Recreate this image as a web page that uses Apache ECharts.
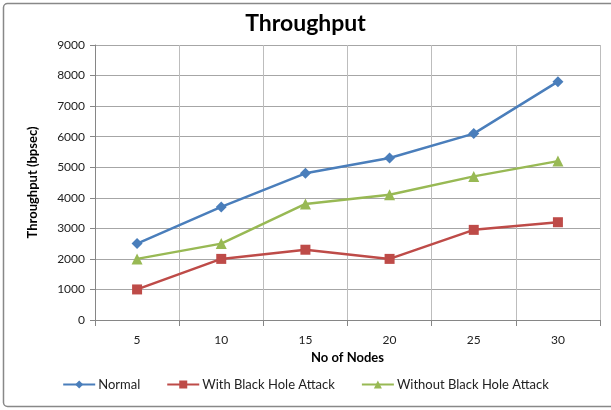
<!DOCTYPE html>
<html><head><meta charset="utf-8">
<script src="https://cdn.jsdelivr.net/npm/echarts@6/dist/echarts.min.js"></script>
<style>html,body{margin:0;padding:0;background:#fff}#c{width:611px;height:410px}</style>
</head><body><div id="c"></div>
<script>
const categories = ['5','10','15','20','25','30'];
const normal = [2500, 3700, 4800, 5300, 6100, 7800];
const withAttack = [1000, 2000, 2300, 2000, 2950, 3200];
const withoutAttack = [2000, 2500, 3800, 4100, 4700, 5200];
const seriesNames = ['Normal', 'With Black Hole Attack', 'Without Black Hole Attack'];

const font = 'Lato, "Noto Sans", sans-serif';
const chart = echarts.init(document.getElementById('c'));
chart.setOption({
  animation: false,
  backgroundColor: '#fff',
  graphic: [{type: 'rect', shape: {x: 3.5, y: 3.5, width: 620, height: 403, r: 4},
    style: {fill: 'none', stroke: '#888', lineWidth: 1.5}}],
  title: {text: 'Throughput', left: 'center', top: 7,
    textStyle: {fontFamily: font, fontSize: 23, fontWeight: 'bold', color: '#000'}},
  grid: {left: 95, right: 11, top: 45, bottom: 90},
  legend: {bottom: 14, left: 'center', itemGap: 26, itemWidth: 32, itemHeight: 10,
    textStyle: {fontFamily: font, fontSize: 13, color: '#222', padding: [0, 0, 0, -2]},
    data: seriesNames},
  xAxis: {type: 'category', data: categories, boundaryGap: true,
    name: 'No of Nodes', nameLocation: 'middle', nameGap: 30,
    nameTextStyle: {fontFamily: font, fontSize: 13, fontWeight: 'bold', color: '#000'},
    axisLine: {lineStyle: {color: '#868686', width: 1}},
    axisTick: {show: true, length: 6, lineStyle: {color: '#868686'}},
    axisLabel: {fontFamily: font, fontSize: 12, color: '#222', margin: 14},
    splitLine: {show: true, lineStyle: {color: '#bdbdbd', width: 1}}},
  yAxis: {type: 'value', min: 0, max: 9000, interval: 1000,
    name: 'Throughput (bpsec)', nameLocation: 'middle', nameGap: 56, nameRotate: 90,
    nameTextStyle: {fontFamily: font, fontSize: 13, fontWeight: 'bold', color: '#000'},
    axisLine: {show: true, lineStyle: {color: '#868686', width: 1}},
    axisTick: {show: true, length: 5, lineStyle: {color: '#868686'}},
    axisLabel: {fontFamily: font, fontSize: 12, color: '#222', margin: 10,
      formatter: v => String(v)},
    splitLine: {show: true, lineStyle: {color: '#a6a6a6', width: 1}}},
  series: [
    {name: seriesNames[0], type: 'line', data: normal, symbol: 'diamond', symbolSize: 11,
      itemStyle: {color: '#4A7EBB'}, lineStyle: {color: '#4A7EBB', width: 2.5}},
    {name: seriesNames[1], type: 'line', data: withAttack, symbol: 'rect', symbolSize: 10,
      itemStyle: {color: '#BE4B48'}, lineStyle: {color: '#BE4B48', width: 2.5}},
    {name: seriesNames[2], type: 'line', data: withoutAttack, symbol: 'triangle', symbolSize: 11,
      itemStyle: {color: '#98B954'}, lineStyle: {color: '#98B954', width: 2.5}}
  ]
});
</script></body></html>
